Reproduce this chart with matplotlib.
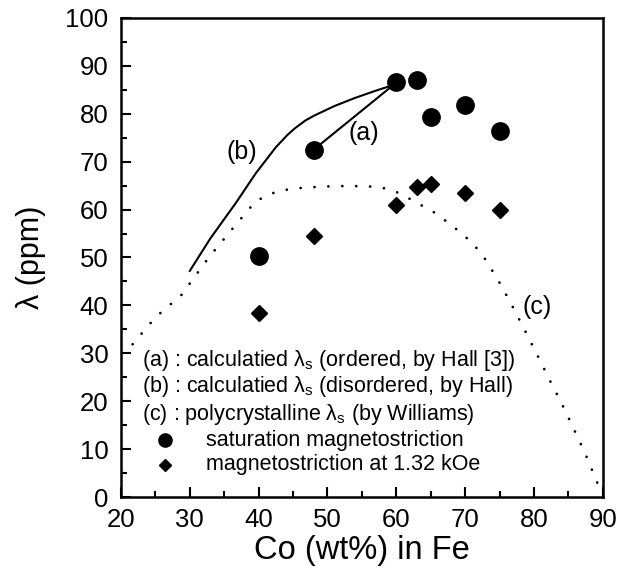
import matplotlib
matplotlib.use("Agg")
import matplotlib.pyplot as plt
from matplotlib.ticker import MultipleLocator

plt.rcParams['font.family'] = ['Liberation Sans', 'DejaVu Sans']

# measured data
co_wt = [40, 48, 60, 63, 65, 70, 75]
lam_sat = [50.3, 72.5, 86.7, 87.0, 79.3, 81.8, 76.5]
lam_132 = [38.5, 54.5, 61.0, 64.8, 65.3, 63.5, 60.0]

# (a) ordered, Hall
a_x = [48, 60]
a_y = [72.5, 86.5]

# (b) disordered, Hall
b_x = [30, 33, 36.7, 39.6, 42.5, 44.2, 45.3, 46.8, 48.2, 51, 54, 57, 60]
b_y = [47.2, 54, 61.4, 67.6, 73.0, 75.6, 77.0, 78.6, 79.7, 81.6, 83.3, 84.8, 86.2]

# (c) polycrystalline, Williams
c_x = [21.7, 25, 28.8, 32.7, 36.2, 39.6, 42.5, 45, 48.2, 51, 53.9, 56.5, 58.5,
       60.5, 62.5, 65.4, 68, 71.1, 73, 75.1, 76.8, 78.5, 80.5, 82.5, 84, 85.4, 87.5, 89.4]
c_y = [31.9, 37.5, 42.2, 49.9, 56.0, 61.8, 63.7, 64.4, 64.7, 64.9, 64.9, 64.8, 64.4,
       63.4, 61.8, 59.5, 56.8, 53.0, 49.5, 44.5, 40.0, 35.3, 29.6, 23.8, 19.6, 15.4, 8.9, 2.3]

legend_lines = [
    r'(a) : calculatied λ$_\mathregular{s}$ (ordered, by Hall [3])',
    r'(b) : calculatied λ$_\mathregular{s}$ (disordered, by Hall)',
    r'(c) : polycrystalline λ$_\mathregular{s}$ (by Williams)',
]

fig = plt.figure(figsize=(6.17, 5.78), dpi=100)
ax = fig.add_axes([0.196, 0.140, 0.781, 0.829])

ax.plot(c_x, c_y, color='black', lw=2, linestyle=(0, (0.01, 5)), dash_capstyle='round')
ax.plot(b_x, b_y, color='black', lw=1.5)
ax.plot(a_x, a_y, color='black', lw=1.5)
ax.plot(co_wt, lam_sat, 'o', color='black', ms=12.5, ls='none')
ax.plot(co_wt, lam_132, 'D', color='black', ms=7.8, ls='none')

ax.text(37.6, 72.0, '(b)', fontsize=18, ha='center', va='center')
ax.text(55.3, 76.0, '(a)', fontsize=18, ha='center', va='center')
ax.text(80.4, 39.7, '(c)', fontsize=18, ha='center', va='center')

leg_y = [28.6, 23.0, 17.3]
for s, y in zip(legend_lines, leg_y):
    ax.text(23.05, y, s, fontsize=15.5, ha='left', va='center')
ax.plot([26.4], [11.9], 'o', color='black', ms=9.5)
ax.plot([26.4], [6.7], 'D', color='black', ms=6.3)
ax.text(32.3, 11.9, 'saturation magnetostriction', fontsize=15.5, ha='left', va='center')
ax.text(32.3, 6.7, 'magnetostriction at 1.32 kOe', fontsize=15.5, ha='left', va='center')

ax.set_xlim(20, 90)
ax.set_ylim(0, 100)
ax.xaxis.set_major_locator(MultipleLocator(10))
ax.xaxis.set_minor_locator(MultipleLocator(5))
ax.yaxis.set_major_locator(MultipleLocator(10))
ax.yaxis.set_minor_locator(MultipleLocator(5))
ax.tick_params(which='both', direction='in', width=1.5, labelsize=18.5)
ax.tick_params(axis='x', pad=8)
ax.tick_params(axis='y', pad=9)
ax.tick_params(which='major', length=7)
ax.tick_params(which='minor', length=4.5)
for sp in ax.spines.values():
    sp.set_linewidth(1.8)

ax.set_xlabel('Co (wt%) in Fe', fontsize=23.5, labelpad=2)
ax.set_ylabel('λ (ppm)', fontsize=22, labelpad=14)

fig.savefig('out.png', dpi=100)
